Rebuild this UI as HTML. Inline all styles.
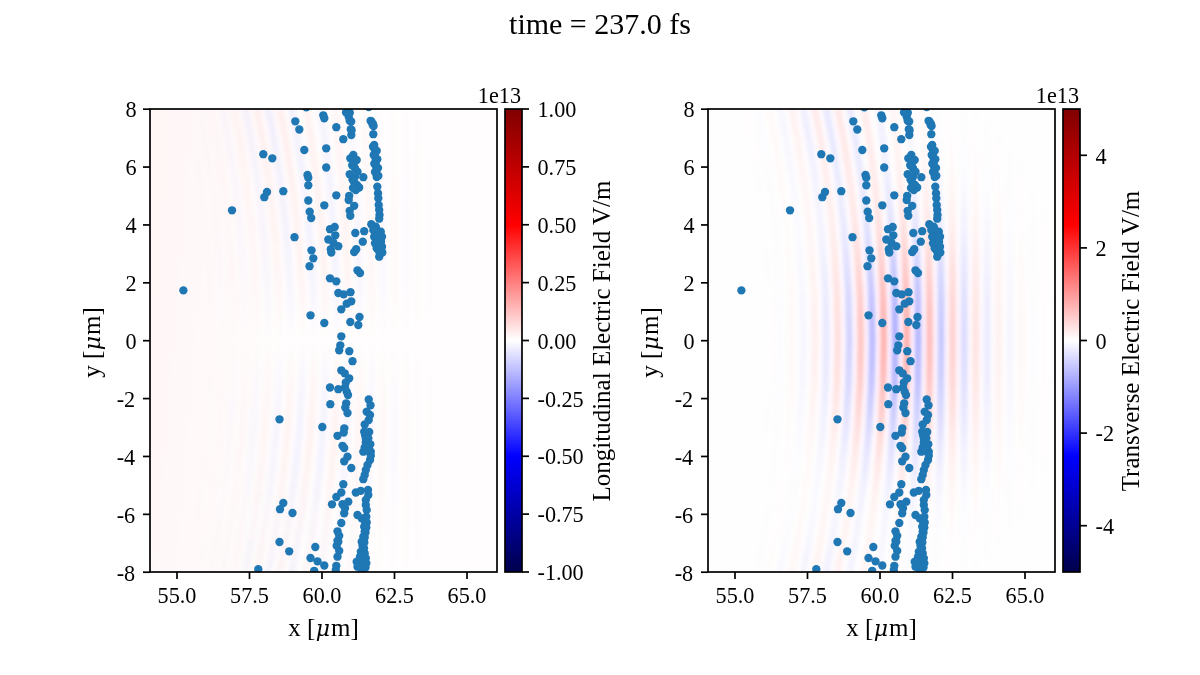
<!DOCTYPE html>
<html lang="en"><head><meta charset="utf-8"><title>time = 237.0 fs</title>
<style>html,body{margin:0;padding:0;background:#fff;}body{width:1200px;height:675px;overflow:hidden;}svg{display:block;}text{font-family:'Liberation Serif','DejaVu Serif',serif;fill:#000;}.mu{font-family:"DejaVu Serif",serif;}</style></head><body>
<svg width="1200" height="675" viewBox="0 0 1200 675">
<defs>
<linearGradient id="seis" x1="0" y1="1" x2="0" y2="0"><stop offset="0" stop-color="#00004c"/><stop offset="0.25" stop-color="#0000ff"/><stop offset="0.5" stop-color="#ffffff"/><stop offset="0.75" stop-color="#ff0000"/><stop offset="1" stop-color="#800000"/></linearGradient>
<linearGradient id="pinkL" x1="0" y1="0" x2="1" y2="0.25"><stop offset="0" stop-color="#ff0000" stop-opacity="0.03"/><stop offset="1" stop-color="#ff0000" stop-opacity="0"/></linearGradient>
<clipPath id="clipL"><rect x="150" y="109" width="347" height="463"/></clipPath>
<clipPath id="clipR"><rect x="708" y="109" width="347" height="463"/></clipPath>
</defs>
<rect width="1200" height="675" fill="#fff"/>
<text x="600" y="33.5" font-size="30" text-anchor="middle">time = 237.0 fs</text>
<rect x="150" y="109" width="347" height="463" fill="#fffdfd"/>
<rect x="150" y="109" width="150" height="463" fill="url(#pinkL)"/>
<defs><linearGradient id="Lar" gradientUnits="userSpaceOnUse" x1="0" y1="109" x2="0" y2="572"><stop offset="0.0000" stop-color="#ff0000" stop-opacity="0.206"/><stop offset="0.0417" stop-color="#ff0000" stop-opacity="0.304"/><stop offset="0.0833" stop-color="#ff0000" stop-opacity="0.426"/><stop offset="0.1250" stop-color="#ff0000" stop-opacity="0.568"/><stop offset="0.1667" stop-color="#ff0000" stop-opacity="0.716"/><stop offset="0.2083" stop-color="#ff0000" stop-opacity="0.854"/><stop offset="0.2500" stop-color="#ff0000" stop-opacity="0.957"/><stop offset="0.2917" stop-color="#ff0000" stop-opacity="1.000"/><stop offset="0.3333" stop-color="#ff0000" stop-opacity="0.964"/><stop offset="0.3750" stop-color="#ff0000" stop-opacity="0.835"/><stop offset="0.4167" stop-color="#ff0000" stop-opacity="0.617"/><stop offset="0.4583" stop-color="#ff0000" stop-opacity="0.328"/><stop offset="0.5000" stop-color="#ff0000" stop-opacity="0"/><stop offset="0.5000" stop-color="#ff0000" stop-opacity="0.000"/><stop offset="0.5417" stop-color="#0000ff" stop-opacity="0.328"/><stop offset="0.5833" stop-color="#0000ff" stop-opacity="0.617"/><stop offset="0.6250" stop-color="#0000ff" stop-opacity="0.835"/><stop offset="0.6667" stop-color="#0000ff" stop-opacity="0.964"/><stop offset="0.7083" stop-color="#0000ff" stop-opacity="1.000"/><stop offset="0.7500" stop-color="#0000ff" stop-opacity="0.957"/><stop offset="0.7917" stop-color="#0000ff" stop-opacity="0.854"/><stop offset="0.8333" stop-color="#0000ff" stop-opacity="0.716"/><stop offset="0.8750" stop-color="#0000ff" stop-opacity="0.568"/><stop offset="0.9167" stop-color="#0000ff" stop-opacity="0.426"/><stop offset="0.9583" stop-color="#0000ff" stop-opacity="0.304"/><stop offset="1.0000" stop-color="#0000ff" stop-opacity="0.206"/></linearGradient><linearGradient id="Lab" gradientUnits="userSpaceOnUse" x1="0" y1="109" x2="0" y2="572"><stop offset="0.0000" stop-color="#0000ff" stop-opacity="0.206"/><stop offset="0.0417" stop-color="#0000ff" stop-opacity="0.304"/><stop offset="0.0833" stop-color="#0000ff" stop-opacity="0.426"/><stop offset="0.1250" stop-color="#0000ff" stop-opacity="0.568"/><stop offset="0.1667" stop-color="#0000ff" stop-opacity="0.716"/><stop offset="0.2083" stop-color="#0000ff" stop-opacity="0.854"/><stop offset="0.2500" stop-color="#0000ff" stop-opacity="0.957"/><stop offset="0.2917" stop-color="#0000ff" stop-opacity="1.000"/><stop offset="0.3333" stop-color="#0000ff" stop-opacity="0.964"/><stop offset="0.3750" stop-color="#0000ff" stop-opacity="0.835"/><stop offset="0.4167" stop-color="#0000ff" stop-opacity="0.617"/><stop offset="0.4583" stop-color="#0000ff" stop-opacity="0.328"/><stop offset="0.5000" stop-color="#0000ff" stop-opacity="0"/><stop offset="0.5000" stop-color="#0000ff" stop-opacity="0.000"/><stop offset="0.5417" stop-color="#ff0000" stop-opacity="0.328"/><stop offset="0.5833" stop-color="#ff0000" stop-opacity="0.617"/><stop offset="0.6250" stop-color="#ff0000" stop-opacity="0.835"/><stop offset="0.6667" stop-color="#ff0000" stop-opacity="0.964"/><stop offset="0.7083" stop-color="#ff0000" stop-opacity="1.000"/><stop offset="0.7500" stop-color="#ff0000" stop-opacity="0.957"/><stop offset="0.7917" stop-color="#ff0000" stop-opacity="0.854"/><stop offset="0.8333" stop-color="#ff0000" stop-opacity="0.716"/><stop offset="0.8750" stop-color="#ff0000" stop-opacity="0.568"/><stop offset="0.9167" stop-color="#ff0000" stop-opacity="0.426"/><stop offset="0.9583" stop-color="#ff0000" stop-opacity="0.304"/><stop offset="1.0000" stop-color="#ff0000" stop-opacity="0.206"/></linearGradient><linearGradient id="Ltr" gradientUnits="userSpaceOnUse" x1="0" y1="109" x2="0" y2="572"><stop offset="0.0000" stop-color="#ff0000" stop-opacity="1.000"/><stop offset="0.0417" stop-color="#ff0000" stop-opacity="0.946"/><stop offset="0.0833" stop-color="#ff0000" stop-opacity="0.792"/><stop offset="0.1250" stop-color="#ff0000" stop-opacity="0.586"/><stop offset="0.1667" stop-color="#ff0000" stop-opacity="0.383"/><stop offset="0.2083" stop-color="#ff0000" stop-opacity="0.222"/><stop offset="0.2500" stop-color="#ff0000" stop-opacity="0.113"/><stop offset="0.2917" stop-color="#ff0000" stop-opacity="0.051"/><stop offset="0.3333" stop-color="#ff0000" stop-opacity="0.021"/><stop offset="0.3750" stop-color="#ff0000" stop-opacity="0.007"/><stop offset="0.4167" stop-color="#ff0000" stop-opacity="0.002"/><stop offset="0.4583" stop-color="#ff0000" stop-opacity="0.001"/><stop offset="0.5000" stop-color="#ff0000" stop-opacity="0.000"/><stop offset="0.5417" stop-color="#ff0000" stop-opacity="0.000"/><stop offset="0.5833" stop-color="#ff0000" stop-opacity="0.000"/><stop offset="0.6250" stop-color="#ff0000" stop-opacity="0.000"/><stop offset="0.6667" stop-color="#ff0000" stop-opacity="0.000"/><stop offset="0.7083" stop-color="#ff0000" stop-opacity="0.000"/><stop offset="0.7500" stop-color="#ff0000" stop-opacity="0.000"/><stop offset="0.7917" stop-color="#ff0000" stop-opacity="0.000"/><stop offset="0.8333" stop-color="#ff0000" stop-opacity="0.000"/><stop offset="0.8750" stop-color="#ff0000" stop-opacity="0.000"/><stop offset="0.9167" stop-color="#ff0000" stop-opacity="0.000"/><stop offset="0.9583" stop-color="#ff0000" stop-opacity="0.000"/><stop offset="1.0000" stop-color="#ff0000" stop-opacity="0.000"/></linearGradient><linearGradient id="Ltb" gradientUnits="userSpaceOnUse" x1="0" y1="109" x2="0" y2="572"><stop offset="0.0000" stop-color="#0000ff" stop-opacity="1.000"/><stop offset="0.0417" stop-color="#0000ff" stop-opacity="0.946"/><stop offset="0.0833" stop-color="#0000ff" stop-opacity="0.792"/><stop offset="0.1250" stop-color="#0000ff" stop-opacity="0.586"/><stop offset="0.1667" stop-color="#0000ff" stop-opacity="0.383"/><stop offset="0.2083" stop-color="#0000ff" stop-opacity="0.222"/><stop offset="0.2500" stop-color="#0000ff" stop-opacity="0.113"/><stop offset="0.2917" stop-color="#0000ff" stop-opacity="0.051"/><stop offset="0.3333" stop-color="#0000ff" stop-opacity="0.021"/><stop offset="0.3750" stop-color="#0000ff" stop-opacity="0.007"/><stop offset="0.4167" stop-color="#0000ff" stop-opacity="0.002"/><stop offset="0.4583" stop-color="#0000ff" stop-opacity="0.001"/><stop offset="0.5000" stop-color="#0000ff" stop-opacity="0.000"/><stop offset="0.5417" stop-color="#0000ff" stop-opacity="0.000"/><stop offset="0.5833" stop-color="#0000ff" stop-opacity="0.000"/><stop offset="0.6250" stop-color="#0000ff" stop-opacity="0.000"/><stop offset="0.6667" stop-color="#0000ff" stop-opacity="0.000"/><stop offset="0.7083" stop-color="#0000ff" stop-opacity="0.000"/><stop offset="0.7500" stop-color="#0000ff" stop-opacity="0.000"/><stop offset="0.7917" stop-color="#0000ff" stop-opacity="0.000"/><stop offset="0.8333" stop-color="#0000ff" stop-opacity="0.000"/><stop offset="0.8750" stop-color="#0000ff" stop-opacity="0.000"/><stop offset="0.9167" stop-color="#0000ff" stop-opacity="0.000"/><stop offset="0.9583" stop-color="#0000ff" stop-opacity="0.000"/><stop offset="1.0000" stop-color="#0000ff" stop-opacity="0.000"/></linearGradient><linearGradient id="Lur" gradientUnits="userSpaceOnUse" x1="0" y1="109" x2="0" y2="572"><stop offset="0.0000" stop-color="#ff0000" stop-opacity="0.000"/><stop offset="0.0417" stop-color="#ff0000" stop-opacity="0.000"/><stop offset="0.0833" stop-color="#ff0000" stop-opacity="0.000"/><stop offset="0.1250" stop-color="#ff0000" stop-opacity="0.000"/><stop offset="0.1667" stop-color="#ff0000" stop-opacity="0.000"/><stop offset="0.2083" stop-color="#ff0000" stop-opacity="0.000"/><stop offset="0.2500" stop-color="#ff0000" stop-opacity="0.000"/><stop offset="0.2917" stop-color="#ff0000" stop-opacity="0.000"/><stop offset="0.3333" stop-color="#ff0000" stop-opacity="0.000"/><stop offset="0.3750" stop-color="#ff0000" stop-opacity="0.000"/><stop offset="0.4167" stop-color="#ff0000" stop-opacity="0.000"/><stop offset="0.4583" stop-color="#ff0000" stop-opacity="0.000"/><stop offset="0.5000" stop-color="#ff0000" stop-opacity="0.000"/><stop offset="0.5417" stop-color="#ff0000" stop-opacity="0.000"/><stop offset="0.5833" stop-color="#ff0000" stop-opacity="0.000"/><stop offset="0.6250" stop-color="#ff0000" stop-opacity="0.002"/><stop offset="0.6667" stop-color="#ff0000" stop-opacity="0.007"/><stop offset="0.7083" stop-color="#ff0000" stop-opacity="0.022"/><stop offset="0.7500" stop-color="#ff0000" stop-opacity="0.060"/><stop offset="0.7917" stop-color="#ff0000" stop-opacity="0.138"/><stop offset="0.8333" stop-color="#ff0000" stop-opacity="0.277"/><stop offset="0.8750" stop-color="#ff0000" stop-opacity="0.477"/><stop offset="0.9167" stop-color="#ff0000" stop-opacity="0.708"/><stop offset="0.9583" stop-color="#ff0000" stop-opacity="0.905"/><stop offset="1.0000" stop-color="#ff0000" stop-opacity="0.998"/></linearGradient><linearGradient id="Lub" gradientUnits="userSpaceOnUse" x1="0" y1="109" x2="0" y2="572"><stop offset="0.0000" stop-color="#0000ff" stop-opacity="0.000"/><stop offset="0.0417" stop-color="#0000ff" stop-opacity="0.000"/><stop offset="0.0833" stop-color="#0000ff" stop-opacity="0.000"/><stop offset="0.1250" stop-color="#0000ff" stop-opacity="0.000"/><stop offset="0.1667" stop-color="#0000ff" stop-opacity="0.000"/><stop offset="0.2083" stop-color="#0000ff" stop-opacity="0.000"/><stop offset="0.2500" stop-color="#0000ff" stop-opacity="0.000"/><stop offset="0.2917" stop-color="#0000ff" stop-opacity="0.000"/><stop offset="0.3333" stop-color="#0000ff" stop-opacity="0.000"/><stop offset="0.3750" stop-color="#0000ff" stop-opacity="0.000"/><stop offset="0.4167" stop-color="#0000ff" stop-opacity="0.000"/><stop offset="0.4583" stop-color="#0000ff" stop-opacity="0.000"/><stop offset="0.5000" stop-color="#0000ff" stop-opacity="0.000"/><stop offset="0.5417" stop-color="#0000ff" stop-opacity="0.000"/><stop offset="0.5833" stop-color="#0000ff" stop-opacity="0.000"/><stop offset="0.6250" stop-color="#0000ff" stop-opacity="0.002"/><stop offset="0.6667" stop-color="#0000ff" stop-opacity="0.007"/><stop offset="0.7083" stop-color="#0000ff" stop-opacity="0.022"/><stop offset="0.7500" stop-color="#0000ff" stop-opacity="0.060"/><stop offset="0.7917" stop-color="#0000ff" stop-opacity="0.138"/><stop offset="0.8333" stop-color="#0000ff" stop-opacity="0.277"/><stop offset="0.8750" stop-color="#0000ff" stop-opacity="0.477"/><stop offset="0.9167" stop-color="#0000ff" stop-opacity="0.708"/><stop offset="0.9583" stop-color="#0000ff" stop-opacity="0.905"/><stop offset="1.0000" stop-color="#0000ff" stop-opacity="0.998"/></linearGradient><filter id="Lblur" filterUnits="userSpaceOnUse" x="90" y="49" width="467" height="583"><feGaussianBlur stdDeviation="2.1"/></filter></defs>
<g clip-path="url(#clipL)"><g filter="url(#Lblur)" fill="none" stroke-width="7.00"><path d="M186.3 100.1Q235.8 340.1 186.3 580.1" stroke="url(#Lar)" stroke-opacity="0.004"/><path d="M197.8 100.1Q247.3 340.1 197.8 580.1" stroke="url(#Lab)" stroke-opacity="0.007"/><path d="M197.8 100.1Q247.3 340.1 197.8 580.1" stroke="url(#Ltb)" stroke-opacity="0.004"/><path d="M209.2 100.1Q258.8 340.1 209.2 580.1" stroke="url(#Lar)" stroke-opacity="0.010"/><path d="M209.2 100.1Q258.8 340.1 209.2 580.1" stroke="url(#Ltr)" stroke-opacity="0.008"/><path d="M209.2 100.1Q258.8 340.1 209.2 580.1" stroke="url(#Lur)" stroke-opacity="0.005"/><path d="M220.7 100.1Q270.2 340.1 220.7 580.1" stroke="url(#Lab)" stroke-opacity="0.015"/><path d="M220.7 100.1Q270.2 340.1 220.7 580.1" stroke="url(#Ltb)" stroke-opacity="0.014"/><path d="M220.7 100.1Q270.2 340.1 220.7 580.1" stroke="url(#Lub)" stroke-opacity="0.009"/><path d="M232.2 100.1Q281.7 340.1 232.2 580.1" stroke="url(#Lar)" stroke-opacity="0.020"/><path d="M232.2 100.1Q281.7 340.1 232.2 580.1" stroke="url(#Ltr)" stroke-opacity="0.022"/><path d="M232.2 100.1Q281.7 340.1 232.2 580.1" stroke="url(#Lur)" stroke-opacity="0.015"/><path d="M243.7 100.1Q293.2 340.1 243.7 580.1" stroke="url(#Lab)" stroke-opacity="0.026"/><path d="M243.7 100.1Q293.2 340.1 243.7 580.1" stroke="url(#Ltb)" stroke-opacity="0.030"/><path d="M243.7 100.1Q293.2 340.1 243.7 580.1" stroke="url(#Lub)" stroke-opacity="0.022"/><path d="M255.1 100.1Q304.7 340.1 255.1 580.1" stroke="url(#Lar)" stroke-opacity="0.032"/><path d="M255.1 100.1Q304.7 340.1 255.1 580.1" stroke="url(#Ltr)" stroke-opacity="0.038"/><path d="M255.1 100.1Q304.7 340.1 255.1 580.1" stroke="url(#Lur)" stroke-opacity="0.028"/><path d="M266.6 100.1Q316.1 340.1 266.6 580.1" stroke="url(#Lab)" stroke-opacity="0.038"/><path d="M266.6 100.1Q316.1 340.1 266.6 580.1" stroke="url(#Ltb)" stroke-opacity="0.043"/><path d="M266.6 100.1Q316.1 340.1 266.6 580.1" stroke="url(#Lub)" stroke-opacity="0.032"/><path d="M278.1 100.1Q327.6 340.1 278.1 580.1" stroke="url(#Lar)" stroke-opacity="0.042"/><path d="M278.1 100.1Q327.6 340.1 278.1 580.1" stroke="url(#Ltr)" stroke-opacity="0.044"/><path d="M278.1 100.1Q327.6 340.1 278.1 580.1" stroke="url(#Lur)" stroke-opacity="0.033"/><path d="M290.2 100.1Q338.5 340.1 290.2 580.1" stroke="url(#Lab)" stroke-opacity="0.044"/><path d="M290.2 100.1Q338.5 340.1 290.2 580.1" stroke="url(#Ltb)" stroke-opacity="0.041"/><path d="M290.2 100.1Q338.5 340.1 290.2 580.1" stroke="url(#Lub)" stroke-opacity="0.031"/><path d="M304.8 100.1Q346.8 340.1 304.8 580.1" stroke="url(#Lar)" stroke-opacity="0.044"/><path d="M304.8 100.1Q346.8 340.1 304.8 580.1" stroke="url(#Ltr)" stroke-opacity="0.034"/><path d="M304.8 100.1Q346.8 340.1 304.8 580.1" stroke="url(#Lur)" stroke-opacity="0.025"/><path d="M319.5 100.1Q355.1 340.1 319.5 580.1" stroke="url(#Lab)" stroke-opacity="0.042"/><path d="M319.5 100.1Q355.1 340.1 319.5 580.1" stroke="url(#Ltb)" stroke-opacity="0.026"/><path d="M319.5 100.1Q355.1 340.1 319.5 580.1" stroke="url(#Lub)" stroke-opacity="0.018"/><path d="M334.1 100.1Q363.4 340.1 334.1 580.1" stroke="url(#Lar)" stroke-opacity="0.038"/><path d="M334.1 100.1Q363.4 340.1 334.1 580.1" stroke="url(#Ltr)" stroke-opacity="0.018"/><path d="M334.1 100.1Q363.4 340.1 334.1 580.1" stroke="url(#Lur)" stroke-opacity="0.012"/><path d="M348.7 100.1Q371.7 340.1 348.7 580.1" stroke="url(#Lab)" stroke-opacity="0.032"/><path d="M348.7 100.1Q371.7 340.1 348.7 580.1" stroke="url(#Ltb)" stroke-opacity="0.011"/><path d="M348.7 100.1Q371.7 340.1 348.7 580.1" stroke="url(#Lub)" stroke-opacity="0.007"/><path d="M363.4 100.1Q380.0 340.1 363.4 580.1" stroke="url(#Lar)" stroke-opacity="0.026"/><path d="M363.4 100.1Q380.0 340.1 363.4 580.1" stroke="url(#Ltr)" stroke-opacity="0.006"/><path d="M378.0 100.1Q388.4 340.1 378.0 580.1" stroke="url(#Lab)" stroke-opacity="0.020"/><path d="M392.6 100.1Q396.7 340.1 392.6 580.1" stroke="url(#Lar)" stroke-opacity="0.015"/><path d="M406.1 100.1Q406.1 340.1 406.1 580.1" stroke="url(#Lab)" stroke-opacity="0.010"/><path d="M417.6 100.1Q417.6 340.1 417.6 580.1" stroke="url(#Lar)" stroke-opacity="0.007"/><path d="M429.1 100.1Q429.1 340.1 429.1 580.1" stroke="url(#Lab)" stroke-opacity="0.004"/></g></g>
<g clip-path="url(#clipL)" fill="#1f77b4"><circle cx="306.3" cy="107.3" r="4.17"/><circle cx="323.3" cy="115.3" r="4.17"/><circle cx="324.3" cy="118.3" r="4.17"/><circle cx="295.3" cy="121.3" r="4.17"/><circle cx="299.3" cy="129.5" r="4.17"/><circle cx="336.3" cy="127.2" r="4.17"/><circle cx="347.8" cy="112.5" r="4.17"/><circle cx="348.7" cy="116.7" r="4.17"/><circle cx="349.7" cy="120.8" r="4.17"/><circle cx="350.8" cy="129.2" r="4.17"/><circle cx="351.3" cy="135.0" r="4.17"/><circle cx="343.3" cy="139.2" r="4.17"/><circle cx="368.7" cy="107.0" r="4.17"/><circle cx="371.3" cy="121.3" r="4.17"/><circle cx="372.7" cy="125.0" r="4.17"/><circle cx="373.3" cy="134.2" r="4.17"/><circle cx="304.3" cy="150.0" r="4.17"/><circle cx="326.2" cy="148.3" r="4.17"/><circle cx="263.3" cy="154.2" r="4.17"/><circle cx="272.3" cy="158.3" r="4.17"/><circle cx="326.2" cy="167.5" r="4.17"/><circle cx="353.3" cy="155.0" r="4.17"/><circle cx="350.3" cy="158.3" r="4.17"/><circle cx="354.2" cy="162.5" r="4.17"/><circle cx="355.0" cy="168.3" r="4.17"/><circle cx="349.7" cy="174.2" r="4.17"/><circle cx="355.0" cy="176.7" r="4.17"/><circle cx="354.2" cy="182.5" r="4.17"/><circle cx="359.2" cy="187.5" r="4.17"/><circle cx="355.8" cy="190.0" r="4.17"/><circle cx="363.3" cy="177.2" r="4.17"/><circle cx="374.2" cy="145.0" r="4.17"/><circle cx="374.7" cy="149.2" r="4.17"/><circle cx="375.0" cy="153.3" r="4.17"/><circle cx="375.3" cy="157.5" r="4.17"/><circle cx="375.7" cy="161.7" r="4.17"/><circle cx="376.0" cy="165.8" r="4.17"/><circle cx="376.3" cy="170.0" r="4.17"/><circle cx="376.7" cy="174.2" r="4.17"/><circle cx="376.7" cy="177.0" r="4.17"/><circle cx="377.3" cy="186.7" r="4.17"/><circle cx="378.0" cy="193.3" r="4.17"/><circle cx="378.3" cy="198.3" r="4.17"/><circle cx="378.7" cy="205.0" r="4.17"/><circle cx="379.2" cy="210.0" r="4.17"/><circle cx="379.5" cy="215.0" r="4.17"/><circle cx="307.5" cy="175.0" r="4.17"/><circle cx="308.3" cy="177.8" r="4.17"/><circle cx="308.3" cy="185.3" r="4.17"/><circle cx="267.0" cy="192.0" r="4.17"/><circle cx="264.3" cy="197.2" r="4.17"/><circle cx="283.3" cy="191.2" r="4.17"/><circle cx="308.3" cy="200.5" r="4.17"/><circle cx="336.3" cy="195.3" r="4.17"/><circle cx="324.3" cy="205.3" r="4.17"/><circle cx="349.2" cy="195.8" r="4.17"/><circle cx="348.7" cy="200.0" r="4.17"/><circle cx="354.2" cy="205.8" r="4.17"/><circle cx="349.7" cy="210.8" r="4.17"/><circle cx="232.0" cy="210.3" r="4.17"/><circle cx="309.7" cy="211.7" r="4.17"/><circle cx="311.2" cy="218.0" r="4.17"/><circle cx="350.3" cy="215.8" r="4.17"/><circle cx="379.2" cy="218.7" r="4.17"/><circle cx="371.3" cy="224.2" r="4.17"/><circle cx="375.8" cy="226.7" r="4.17"/><circle cx="377.5" cy="230.8" r="4.17"/><circle cx="378.3" cy="235.0" r="4.17"/><circle cx="378.3" cy="239.2" r="4.17"/><circle cx="377.5" cy="243.3" r="4.17"/><circle cx="378.3" cy="247.5" r="4.17"/><circle cx="379.2" cy="251.7" r="4.17"/><circle cx="379.2" cy="256.7" r="4.17"/><circle cx="373.3" cy="230.0" r="4.17"/><circle cx="374.2" cy="236.7" r="4.17"/><circle cx="375.0" cy="243.3" r="4.17"/><circle cx="376.7" cy="248.3" r="4.17"/><circle cx="330.0" cy="229.2" r="4.17"/><circle cx="334.7" cy="227.0" r="4.17"/><circle cx="335.3" cy="235.3" r="4.17"/><circle cx="328.3" cy="239.5" r="4.17"/><circle cx="333.3" cy="242.5" r="4.17"/><circle cx="338.3" cy="246.2" r="4.17"/><circle cx="330.8" cy="249.2" r="4.17"/><circle cx="331.3" cy="252.5" r="4.17"/><circle cx="355.3" cy="233.0" r="4.17"/><circle cx="364.2" cy="231.2" r="4.17"/><circle cx="362.8" cy="241.7" r="4.17"/><circle cx="356.2" cy="249.2" r="4.17"/><circle cx="354.2" cy="252.0" r="4.17"/><circle cx="294.5" cy="237.2" r="4.17"/><circle cx="311.5" cy="250.3" r="4.17"/><circle cx="313.3" cy="258.3" r="4.17"/><circle cx="309.5" cy="266.2" r="4.17"/><circle cx="357.5" cy="270.3" r="4.17"/><circle cx="360.0" cy="273.0" r="4.17"/><circle cx="330.0" cy="278.3" r="4.17"/><circle cx="336.3" cy="281.3" r="4.17"/><circle cx="338.3" cy="293.0" r="4.17"/><circle cx="343.7" cy="294.3" r="4.17"/><circle cx="350.5" cy="292.2" r="4.17"/><circle cx="351.3" cy="301.3" r="4.17"/><circle cx="346.7" cy="303.7" r="4.17"/><circle cx="341.3" cy="309.3" r="4.17"/><circle cx="310.5" cy="315.3" r="4.17"/><circle cx="324.3" cy="323.0" r="4.17"/><circle cx="359.5" cy="317.0" r="4.17"/><circle cx="350.3" cy="322.0" r="4.17"/><circle cx="358.3" cy="325.0" r="4.17"/><circle cx="380.8" cy="231.7" r="4.17"/><circle cx="382.0" cy="236.7" r="4.17"/><circle cx="381.0" cy="241.7" r="4.17"/><circle cx="382.0" cy="246.7" r="4.17"/><circle cx="382.3" cy="252.5" r="4.17"/><circle cx="341.3" cy="336.3" r="4.17"/><circle cx="340.3" cy="345.3" r="4.17"/><circle cx="339.2" cy="350.3" r="4.17"/><circle cx="349.3" cy="351.2" r="4.17"/><circle cx="352.5" cy="361.2" r="4.17"/><circle cx="341.3" cy="370.3" r="4.17"/><circle cx="344.7" cy="373.3" r="4.17"/><circle cx="349.2" cy="378.3" r="4.17"/><circle cx="345.8" cy="382.5" r="4.17"/><circle cx="345.0" cy="387.5" r="4.17"/><circle cx="346.7" cy="391.7" r="4.17"/><circle cx="348.0" cy="395.0" r="4.17"/><circle cx="330.0" cy="387.5" r="4.17"/><circle cx="338.3" cy="389.2" r="4.17"/><circle cx="330.3" cy="404.2" r="4.17"/><circle cx="346.2" cy="403.3" r="4.17"/><circle cx="345.3" cy="407.5" r="4.17"/><circle cx="347.5" cy="413.0" r="4.17"/><circle cx="368.7" cy="399.5" r="4.17"/><circle cx="370.5" cy="405.3" r="4.17"/><circle cx="366.7" cy="411.7" r="4.17"/><circle cx="370.0" cy="415.0" r="4.17"/><circle cx="368.7" cy="420.0" r="4.17"/><circle cx="364.7" cy="424.5" r="4.17"/><circle cx="364.2" cy="431.7" r="4.17"/><circle cx="369.2" cy="432.0" r="4.17"/><circle cx="279.5" cy="419.3" r="4.17"/><circle cx="322.3" cy="427.0" r="4.17"/><circle cx="344.3" cy="428.3" r="4.17"/><circle cx="343.7" cy="432.5" r="4.17"/><circle cx="337.5" cy="435.8" r="4.17"/><circle cx="342.5" cy="445.8" r="4.17"/><circle cx="344.2" cy="448.0" r="4.17"/><circle cx="347.5" cy="456.7" r="4.17"/><circle cx="344.2" cy="461.3" r="4.17"/><circle cx="351.3" cy="468.0" r="4.17"/><circle cx="365.0" cy="435.0" r="4.17"/><circle cx="368.3" cy="438.3" r="4.17"/><circle cx="365.8" cy="442.5" r="4.17"/><circle cx="368.3" cy="446.7" r="4.17"/><circle cx="363.3" cy="451.7" r="4.17"/><circle cx="370.8" cy="451.7" r="4.17"/><circle cx="370.0" cy="460.0" r="4.17"/><circle cx="367.5" cy="465.0" r="4.17"/><circle cx="365.8" cy="470.0" r="4.17"/><circle cx="364.7" cy="475.0" r="4.17"/><circle cx="363.3" cy="479.2" r="4.17"/><circle cx="343.3" cy="484.2" r="4.17"/><circle cx="341.3" cy="492.5" r="4.17"/><circle cx="336.3" cy="497.0" r="4.17"/><circle cx="332.0" cy="504.3" r="4.17"/><circle cx="355.8" cy="492.5" r="4.17"/><circle cx="360.8" cy="490.8" r="4.17"/><circle cx="368.0" cy="490.0" r="4.17"/><circle cx="368.3" cy="495.0" r="4.17"/><circle cx="365.8" cy="500.0" r="4.17"/><circle cx="365.8" cy="505.0" r="4.17"/><circle cx="366.7" cy="510.0" r="4.17"/><circle cx="348.3" cy="501.7" r="4.17"/><circle cx="342.5" cy="504.2" r="4.17"/><circle cx="345.0" cy="508.3" r="4.17"/><circle cx="344.2" cy="513.3" r="4.17"/><circle cx="357.5" cy="515.0" r="4.17"/><circle cx="361.7" cy="518.3" r="4.17"/><circle cx="365.0" cy="521.7" r="4.17"/><circle cx="364.2" cy="526.7" r="4.17"/><circle cx="364.7" cy="531.7" r="4.17"/><circle cx="363.3" cy="536.7" r="4.17"/><circle cx="361.7" cy="541.7" r="4.17"/><circle cx="362.5" cy="545.8" r="4.17"/><circle cx="341.3" cy="523.0" r="4.17"/><circle cx="337.5" cy="531.3" r="4.17"/><circle cx="339.2" cy="535.8" r="4.17"/><circle cx="337.5" cy="540.8" r="4.17"/><circle cx="336.7" cy="545.8" r="4.17"/><circle cx="283.3" cy="503.0" r="4.17"/><circle cx="280.0" cy="509.2" r="4.17"/><circle cx="292.5" cy="513.0" r="4.17"/><circle cx="279.5" cy="542.0" r="4.17"/><circle cx="315.3" cy="547.0" r="4.17"/><circle cx="365.8" cy="438.3" r="4.17"/><circle cx="370.3" cy="444.2" r="4.17"/><circle cx="364.7" cy="447.5" r="4.17"/><circle cx="367.7" cy="450.8" r="4.17"/><circle cx="370.8" cy="455.8" r="4.17"/><circle cx="289.2" cy="551.3" r="4.17"/><circle cx="310.5" cy="558.0" r="4.17"/><circle cx="317.5" cy="561.3" r="4.17"/><circle cx="324.3" cy="565.5" r="4.17"/><circle cx="314.2" cy="570.8" r="4.17"/><circle cx="258.3" cy="569.2" r="4.17"/><circle cx="337.5" cy="556.7" r="4.17"/><circle cx="336.3" cy="565.8" r="4.17"/><circle cx="335.8" cy="570.0" r="4.17"/><circle cx="360.8" cy="551.7" r="4.17"/><circle cx="360.0" cy="556.7" r="4.17"/><circle cx="363.3" cy="558.3" r="4.17"/><circle cx="360.8" cy="561.7" r="4.17"/><circle cx="365.0" cy="563.3" r="4.17"/><circle cx="360.0" cy="566.7" r="4.17"/><circle cx="364.2" cy="567.5" r="4.17"/><circle cx="361.7" cy="570.8" r="4.17"/><circle cx="183.4" cy="290.4" r="4.17"/><circle cx="366.3" cy="516.7" r="4.17"/><circle cx="366.7" cy="522.5" r="4.17"/><circle cx="366.3" cy="527.5" r="4.17"/><circle cx="365.5" cy="532.5" r="4.17"/><circle cx="364.7" cy="537.5" r="4.17"/><circle cx="364.3" cy="542.5" r="4.17"/><circle cx="364.0" cy="548.3" r="4.17"/><circle cx="364.7" cy="553.3" r="4.17"/><circle cx="365.8" cy="558.3" r="4.17"/><circle cx="366.3" cy="563.3" r="4.17"/><circle cx="365.5" cy="567.5" r="4.17"/><circle cx="339.2" cy="550.8" r="4.17"/><circle cx="338.3" cy="541.7" r="4.17"/><circle cx="356.7" cy="561.7" r="4.17"/><circle cx="357.5" cy="566.7" r="4.17"/><circle cx="346.0" cy="112.4" r="4.17"/><circle cx="349.8" cy="112.8" r="4.17"/><circle cx="351.2" cy="121.5" r="4.17"/><circle cx="351.6" cy="130.2" r="4.17"/><circle cx="370.6" cy="120.8" r="4.17"/><circle cx="372.9" cy="123.6" r="4.17"/><circle cx="373.6" cy="126.0" r="4.17"/><circle cx="356.7" cy="160.0" r="4.17"/><circle cx="352.2" cy="165.3" r="4.17"/><circle cx="357.5" cy="171.7" r="4.17"/><circle cx="352.5" cy="179.5" r="4.17"/><circle cx="357.0" cy="185.0" r="4.17"/><circle cx="353.0" cy="188.0" r="4.17"/><circle cx="373.0" cy="146.7" r="4.17"/><circle cx="376.7" cy="150.8" r="4.17"/><circle cx="373.7" cy="155.0" r="4.17"/><circle cx="377.3" cy="159.2" r="4.17"/><circle cx="374.3" cy="163.7" r="4.17"/><circle cx="378.0" cy="168.0" r="4.17"/><circle cx="375.0" cy="172.0" r="4.17"/><circle cx="378.3" cy="175.8" r="4.17"/></g>
<rect x="150" y="109" width="347" height="463" fill="none" stroke="#000" stroke-width="1.7"/>
<line x1="143" x2="150" y1="572.22" y2="572.22" stroke="#000" stroke-width="1.7"/>
<text x="135.2" y="580.52" font-size="22.2" text-anchor="end">-8</text>
<line x1="143" x2="150" y1="514.34" y2="514.34" stroke="#000" stroke-width="1.7"/>
<text x="135.2" y="522.64" font-size="22.2" text-anchor="end">-6</text>
<line x1="143" x2="150" y1="456.46" y2="456.46" stroke="#000" stroke-width="1.7"/>
<text x="135.2" y="464.76" font-size="22.2" text-anchor="end">-4</text>
<line x1="143" x2="150" y1="398.58" y2="398.58" stroke="#000" stroke-width="1.7"/>
<text x="135.2" y="406.88" font-size="22.2" text-anchor="end">-2</text>
<line x1="143" x2="150" y1="340.70" y2="340.70" stroke="#000" stroke-width="1.7"/>
<text x="136.5" y="349.00" font-size="22.2" text-anchor="end">0</text>
<line x1="143" x2="150" y1="282.82" y2="282.82" stroke="#000" stroke-width="1.7"/>
<text x="136.5" y="291.12" font-size="22.2" text-anchor="end">2</text>
<line x1="143" x2="150" y1="224.94" y2="224.94" stroke="#000" stroke-width="1.7"/>
<text x="136.5" y="233.24" font-size="22.2" text-anchor="end">4</text>
<line x1="143" x2="150" y1="167.06" y2="167.06" stroke="#000" stroke-width="1.7"/>
<text x="136.5" y="175.36" font-size="22.2" text-anchor="end">6</text>
<line x1="143" x2="150" y1="109.18" y2="109.18" stroke="#000" stroke-width="1.7"/>
<text x="136.5" y="117.48" font-size="22.2" text-anchor="end">8</text>
<line x1="177.00" x2="177.00" y1="572" y2="579" stroke="#000" stroke-width="1.7"/>
<text x="177.00" y="603" font-size="22.2" text-anchor="middle">55.0</text>
<line x1="249.50" x2="249.50" y1="572" y2="579" stroke="#000" stroke-width="1.7"/>
<text x="249.50" y="603" font-size="22.2" text-anchor="middle">57.5</text>
<line x1="322.00" x2="322.00" y1="572" y2="579" stroke="#000" stroke-width="1.7"/>
<text x="322.00" y="603" font-size="22.2" text-anchor="middle">60.0</text>
<line x1="394.50" x2="394.50" y1="572" y2="579" stroke="#000" stroke-width="1.7"/>
<text x="394.50" y="603" font-size="22.2" text-anchor="middle">62.5</text>
<line x1="467.00" x2="467.00" y1="572" y2="579" stroke="#000" stroke-width="1.7"/>
<text x="467.00" y="603" font-size="22.2" text-anchor="middle">65.0</text>
<text x="323.5" y="636" font-size="25" text-anchor="middle">x [<tspan font-style="italic" class="mu" font-size="22" dx="0.6">μ</tspan><tspan dx="0.9">m]</tspan></text>
<text transform="translate(100,342.5) rotate(-90)" font-size="25" text-anchor="middle">y [<tspan font-style="italic" class="mu" font-size="22" dx="0.6">μ</tspan><tspan dx="0.9">m]</tspan></text>
<rect x="505" y="109" width="17" height="463" fill="url(#seis)" stroke="#000" stroke-width="1.7"/>
<line x1="522" x2="529" y1="109.00" y2="109.00" stroke="#000" stroke-width="1.7"/>
<text x="537.5" y="117.20" font-size="22.2">1.00</text>
<line x1="522" x2="529" y1="166.88" y2="166.88" stroke="#000" stroke-width="1.7"/>
<text x="537.5" y="175.07" font-size="22.2">0.75</text>
<line x1="522" x2="529" y1="224.75" y2="224.75" stroke="#000" stroke-width="1.7"/>
<text x="537.5" y="232.95" font-size="22.2">0.50</text>
<line x1="522" x2="529" y1="282.62" y2="282.62" stroke="#000" stroke-width="1.7"/>
<text x="537.5" y="290.82" font-size="22.2">0.25</text>
<line x1="522" x2="529" y1="340.50" y2="340.50" stroke="#000" stroke-width="1.7"/>
<text x="537.5" y="348.70" font-size="22.2">0.00</text>
<line x1="522" x2="529" y1="398.38" y2="398.38" stroke="#000" stroke-width="1.7"/>
<text x="537.5" y="406.57" font-size="22.2">-0.25</text>
<line x1="522" x2="529" y1="456.25" y2="456.25" stroke="#000" stroke-width="1.7"/>
<text x="537.5" y="464.45" font-size="22.2">-0.50</text>
<line x1="522" x2="529" y1="514.12" y2="514.12" stroke="#000" stroke-width="1.7"/>
<text x="537.5" y="522.33" font-size="22.2">-0.75</text>
<line x1="522" x2="529" y1="572.00" y2="572.00" stroke="#000" stroke-width="1.7"/>
<text x="537.5" y="580.20" font-size="22.2">-1.00</text>
<text x="521" y="102.8" font-size="22.2" text-anchor="end">1e13</text>
<text transform="translate(610.3,341) rotate(-90)" font-size="25" text-anchor="middle">Longitudinal Electric Field V/m</text>
<rect x="708" y="109" width="347" height="463" fill="#fffefe"/>
<defs><linearGradient id="Rmr" gradientUnits="userSpaceOnUse" x1="0" y1="109" x2="0" y2="572"><stop offset="0.0000" stop-color="#ff0000" stop-opacity="0.015"/><stop offset="0.0417" stop-color="#ff0000" stop-opacity="0.030"/><stop offset="0.0833" stop-color="#ff0000" stop-opacity="0.055"/><stop offset="0.1250" stop-color="#ff0000" stop-opacity="0.096"/><stop offset="0.1667" stop-color="#ff0000" stop-opacity="0.157"/><stop offset="0.2083" stop-color="#ff0000" stop-opacity="0.243"/><stop offset="0.2500" stop-color="#ff0000" stop-opacity="0.354"/><stop offset="0.2917" stop-color="#ff0000" stop-opacity="0.487"/><stop offset="0.3333" stop-color="#ff0000" stop-opacity="0.632"/><stop offset="0.3750" stop-color="#ff0000" stop-opacity="0.773"/><stop offset="0.4167" stop-color="#ff0000" stop-opacity="0.893"/><stop offset="0.4583" stop-color="#ff0000" stop-opacity="0.973"/><stop offset="0.5000" stop-color="#ff0000" stop-opacity="1.000"/><stop offset="0.5417" stop-color="#ff0000" stop-opacity="0.970"/><stop offset="0.5833" stop-color="#ff0000" stop-opacity="0.888"/><stop offset="0.6250" stop-color="#ff0000" stop-opacity="0.766"/><stop offset="0.6667" stop-color="#ff0000" stop-opacity="0.624"/><stop offset="0.7083" stop-color="#ff0000" stop-opacity="0.480"/><stop offset="0.7500" stop-color="#ff0000" stop-opacity="0.348"/><stop offset="0.7917" stop-color="#ff0000" stop-opacity="0.238"/><stop offset="0.8333" stop-color="#ff0000" stop-opacity="0.154"/><stop offset="0.8750" stop-color="#ff0000" stop-opacity="0.094"/><stop offset="0.9167" stop-color="#ff0000" stop-opacity="0.054"/><stop offset="0.9583" stop-color="#ff0000" stop-opacity="0.029"/><stop offset="1.0000" stop-color="#ff0000" stop-opacity="0.015"/></linearGradient><linearGradient id="Rmb" gradientUnits="userSpaceOnUse" x1="0" y1="109" x2="0" y2="572"><stop offset="0.0000" stop-color="#0000ff" stop-opacity="0.015"/><stop offset="0.0417" stop-color="#0000ff" stop-opacity="0.030"/><stop offset="0.0833" stop-color="#0000ff" stop-opacity="0.055"/><stop offset="0.1250" stop-color="#0000ff" stop-opacity="0.096"/><stop offset="0.1667" stop-color="#0000ff" stop-opacity="0.157"/><stop offset="0.2083" stop-color="#0000ff" stop-opacity="0.243"/><stop offset="0.2500" stop-color="#0000ff" stop-opacity="0.354"/><stop offset="0.2917" stop-color="#0000ff" stop-opacity="0.487"/><stop offset="0.3333" stop-color="#0000ff" stop-opacity="0.632"/><stop offset="0.3750" stop-color="#0000ff" stop-opacity="0.773"/><stop offset="0.4167" stop-color="#0000ff" stop-opacity="0.893"/><stop offset="0.4583" stop-color="#0000ff" stop-opacity="0.973"/><stop offset="0.5000" stop-color="#0000ff" stop-opacity="1.000"/><stop offset="0.5417" stop-color="#0000ff" stop-opacity="0.970"/><stop offset="0.5833" stop-color="#0000ff" stop-opacity="0.888"/><stop offset="0.6250" stop-color="#0000ff" stop-opacity="0.766"/><stop offset="0.6667" stop-color="#0000ff" stop-opacity="0.624"/><stop offset="0.7083" stop-color="#0000ff" stop-opacity="0.480"/><stop offset="0.7500" stop-color="#0000ff" stop-opacity="0.348"/><stop offset="0.7917" stop-color="#0000ff" stop-opacity="0.238"/><stop offset="0.8333" stop-color="#0000ff" stop-opacity="0.154"/><stop offset="0.8750" stop-color="#0000ff" stop-opacity="0.094"/><stop offset="0.9167" stop-color="#0000ff" stop-opacity="0.054"/><stop offset="0.9583" stop-color="#0000ff" stop-opacity="0.029"/><stop offset="1.0000" stop-color="#0000ff" stop-opacity="0.015"/></linearGradient><linearGradient id="Rtr" gradientUnits="userSpaceOnUse" x1="0" y1="109" x2="0" y2="572"><stop offset="0.0000" stop-color="#ff0000" stop-opacity="0.996"/><stop offset="0.0417" stop-color="#ff0000" stop-opacity="0.979"/><stop offset="0.0833" stop-color="#ff0000" stop-opacity="0.882"/><stop offset="0.1250" stop-color="#ff0000" stop-opacity="0.727"/><stop offset="0.1667" stop-color="#ff0000" stop-opacity="0.549"/><stop offset="0.2083" stop-color="#ff0000" stop-opacity="0.380"/><stop offset="0.2500" stop-color="#ff0000" stop-opacity="0.240"/><stop offset="0.2917" stop-color="#ff0000" stop-opacity="0.139"/><stop offset="0.3333" stop-color="#ff0000" stop-opacity="0.074"/><stop offset="0.3750" stop-color="#ff0000" stop-opacity="0.036"/><stop offset="0.4167" stop-color="#ff0000" stop-opacity="0.016"/><stop offset="0.4583" stop-color="#ff0000" stop-opacity="0.007"/><stop offset="0.5000" stop-color="#ff0000" stop-opacity="0.002"/><stop offset="0.5417" stop-color="#ff0000" stop-opacity="0.001"/><stop offset="0.5833" stop-color="#ff0000" stop-opacity="0.000"/><stop offset="0.6250" stop-color="#ff0000" stop-opacity="0.000"/><stop offset="0.6667" stop-color="#ff0000" stop-opacity="0.000"/><stop offset="0.7083" stop-color="#ff0000" stop-opacity="0.000"/><stop offset="0.7500" stop-color="#ff0000" stop-opacity="0.000"/><stop offset="0.7917" stop-color="#ff0000" stop-opacity="0.000"/><stop offset="0.8333" stop-color="#ff0000" stop-opacity="0.000"/><stop offset="0.8750" stop-color="#ff0000" stop-opacity="0.000"/><stop offset="0.9167" stop-color="#ff0000" stop-opacity="0.000"/><stop offset="0.9583" stop-color="#ff0000" stop-opacity="0.000"/><stop offset="1.0000" stop-color="#ff0000" stop-opacity="0.000"/></linearGradient><linearGradient id="Rtb" gradientUnits="userSpaceOnUse" x1="0" y1="109" x2="0" y2="572"><stop offset="0.0000" stop-color="#0000ff" stop-opacity="0.996"/><stop offset="0.0417" stop-color="#0000ff" stop-opacity="0.979"/><stop offset="0.0833" stop-color="#0000ff" stop-opacity="0.882"/><stop offset="0.1250" stop-color="#0000ff" stop-opacity="0.727"/><stop offset="0.1667" stop-color="#0000ff" stop-opacity="0.549"/><stop offset="0.2083" stop-color="#0000ff" stop-opacity="0.380"/><stop offset="0.2500" stop-color="#0000ff" stop-opacity="0.240"/><stop offset="0.2917" stop-color="#0000ff" stop-opacity="0.139"/><stop offset="0.3333" stop-color="#0000ff" stop-opacity="0.074"/><stop offset="0.3750" stop-color="#0000ff" stop-opacity="0.036"/><stop offset="0.4167" stop-color="#0000ff" stop-opacity="0.016"/><stop offset="0.4583" stop-color="#0000ff" stop-opacity="0.007"/><stop offset="0.5000" stop-color="#0000ff" stop-opacity="0.002"/><stop offset="0.5417" stop-color="#0000ff" stop-opacity="0.001"/><stop offset="0.5833" stop-color="#0000ff" stop-opacity="0.000"/><stop offset="0.6250" stop-color="#0000ff" stop-opacity="0.000"/><stop offset="0.6667" stop-color="#0000ff" stop-opacity="0.000"/><stop offset="0.7083" stop-color="#0000ff" stop-opacity="0.000"/><stop offset="0.7500" stop-color="#0000ff" stop-opacity="0.000"/><stop offset="0.7917" stop-color="#0000ff" stop-opacity="0.000"/><stop offset="0.8333" stop-color="#0000ff" stop-opacity="0.000"/><stop offset="0.8750" stop-color="#0000ff" stop-opacity="0.000"/><stop offset="0.9167" stop-color="#0000ff" stop-opacity="0.000"/><stop offset="0.9583" stop-color="#0000ff" stop-opacity="0.000"/><stop offset="1.0000" stop-color="#0000ff" stop-opacity="0.000"/></linearGradient><linearGradient id="Rur" gradientUnits="userSpaceOnUse" x1="0" y1="109" x2="0" y2="572"><stop offset="0.0000" stop-color="#ff0000" stop-opacity="0.000"/><stop offset="0.0417" stop-color="#ff0000" stop-opacity="0.000"/><stop offset="0.0833" stop-color="#ff0000" stop-opacity="0.000"/><stop offset="0.1250" stop-color="#ff0000" stop-opacity="0.000"/><stop offset="0.1667" stop-color="#ff0000" stop-opacity="0.000"/><stop offset="0.2083" stop-color="#ff0000" stop-opacity="0.000"/><stop offset="0.2500" stop-color="#ff0000" stop-opacity="0.000"/><stop offset="0.2917" stop-color="#ff0000" stop-opacity="0.000"/><stop offset="0.3333" stop-color="#ff0000" stop-opacity="0.000"/><stop offset="0.3750" stop-color="#ff0000" stop-opacity="0.000"/><stop offset="0.4167" stop-color="#ff0000" stop-opacity="0.000"/><stop offset="0.4583" stop-color="#ff0000" stop-opacity="0.000"/><stop offset="0.5000" stop-color="#ff0000" stop-opacity="0.000"/><stop offset="0.5417" stop-color="#ff0000" stop-opacity="0.000"/><stop offset="0.5833" stop-color="#ff0000" stop-opacity="0.000"/><stop offset="0.6250" stop-color="#ff0000" stop-opacity="0.000"/><stop offset="0.6667" stop-color="#ff0000" stop-opacity="0.001"/><stop offset="0.7083" stop-color="#ff0000" stop-opacity="0.006"/><stop offset="0.7500" stop-color="#ff0000" stop-opacity="0.023"/><stop offset="0.7917" stop-color="#ff0000" stop-opacity="0.068"/><stop offset="0.8333" stop-color="#ff0000" stop-opacity="0.167"/><stop offset="0.8750" stop-color="#ff0000" stop-opacity="0.342"/><stop offset="0.9167" stop-color="#ff0000" stop-opacity="0.585"/><stop offset="0.9583" stop-color="#ff0000" stop-opacity="0.832"/><stop offset="1.0000" stop-color="#ff0000" stop-opacity="0.984"/></linearGradient><linearGradient id="Rub" gradientUnits="userSpaceOnUse" x1="0" y1="109" x2="0" y2="572"><stop offset="0.0000" stop-color="#0000ff" stop-opacity="0.000"/><stop offset="0.0417" stop-color="#0000ff" stop-opacity="0.000"/><stop offset="0.0833" stop-color="#0000ff" stop-opacity="0.000"/><stop offset="0.1250" stop-color="#0000ff" stop-opacity="0.000"/><stop offset="0.1667" stop-color="#0000ff" stop-opacity="0.000"/><stop offset="0.2083" stop-color="#0000ff" stop-opacity="0.000"/><stop offset="0.2500" stop-color="#0000ff" stop-opacity="0.000"/><stop offset="0.2917" stop-color="#0000ff" stop-opacity="0.000"/><stop offset="0.3333" stop-color="#0000ff" stop-opacity="0.000"/><stop offset="0.3750" stop-color="#0000ff" stop-opacity="0.000"/><stop offset="0.4167" stop-color="#0000ff" stop-opacity="0.000"/><stop offset="0.4583" stop-color="#0000ff" stop-opacity="0.000"/><stop offset="0.5000" stop-color="#0000ff" stop-opacity="0.000"/><stop offset="0.5417" stop-color="#0000ff" stop-opacity="0.000"/><stop offset="0.5833" stop-color="#0000ff" stop-opacity="0.000"/><stop offset="0.6250" stop-color="#0000ff" stop-opacity="0.000"/><stop offset="0.6667" stop-color="#0000ff" stop-opacity="0.001"/><stop offset="0.7083" stop-color="#0000ff" stop-opacity="0.006"/><stop offset="0.7500" stop-color="#0000ff" stop-opacity="0.023"/><stop offset="0.7917" stop-color="#0000ff" stop-opacity="0.068"/><stop offset="0.8333" stop-color="#0000ff" stop-opacity="0.167"/><stop offset="0.8750" stop-color="#0000ff" stop-opacity="0.342"/><stop offset="0.9167" stop-color="#0000ff" stop-opacity="0.585"/><stop offset="0.9583" stop-color="#0000ff" stop-opacity="0.832"/><stop offset="1.0000" stop-color="#0000ff" stop-opacity="0.984"/></linearGradient><filter id="Rblur" filterUnits="userSpaceOnUse" x="648" y="49" width="467" height="583"><feGaussianBlur stdDeviation="2.1"/></filter></defs>
<g clip-path="url(#clipR)"><g filter="url(#Rblur)" fill="none" stroke-width="7.00"><path d="M744.3 100.1Q793.8 340.1 744.3 580.1" stroke="url(#Rmr)" stroke-opacity="0.005"/><path d="M744.3 100.1Q793.8 340.1 744.3 580.1" stroke="url(#Rtr)" stroke-opacity="0.005"/><path d="M755.8 100.1Q805.3 340.1 755.8 580.1" stroke="url(#Rmb)" stroke-opacity="0.010"/><path d="M755.8 100.1Q805.3 340.1 755.8 580.1" stroke="url(#Rtb)" stroke-opacity="0.010"/><path d="M755.8 100.1Q805.3 340.1 755.8 580.1" stroke="url(#Rub)" stroke-opacity="0.007"/><path d="M767.2 100.1Q816.8 340.1 767.2 580.1" stroke="url(#Rmr)" stroke-opacity="0.020"/><path d="M767.2 100.1Q816.8 340.1 767.2 580.1" stroke="url(#Rtr)" stroke-opacity="0.018"/><path d="M767.2 100.1Q816.8 340.1 767.2 580.1" stroke="url(#Rur)" stroke-opacity="0.013"/><path d="M778.7 100.1Q828.2 340.1 778.7 580.1" stroke="url(#Rmb)" stroke-opacity="0.035"/><path d="M778.7 100.1Q828.2 340.1 778.7 580.1" stroke="url(#Rtb)" stroke-opacity="0.031"/><path d="M778.7 100.1Q828.2 340.1 778.7 580.1" stroke="url(#Rub)" stroke-opacity="0.022"/><path d="M790.2 100.1Q839.7 340.1 790.2 580.1" stroke="url(#Rmr)" stroke-opacity="0.059"/><path d="M790.2 100.1Q839.7 340.1 790.2 580.1" stroke="url(#Rtr)" stroke-opacity="0.046"/><path d="M790.2 100.1Q839.7 340.1 790.2 580.1" stroke="url(#Rur)" stroke-opacity="0.033"/><path d="M801.7 100.1Q851.2 340.1 801.7 580.1" stroke="url(#Rmb)" stroke-opacity="0.092"/><path d="M801.7 100.1Q851.2 340.1 801.7 580.1" stroke="url(#Rtb)" stroke-opacity="0.063"/><path d="M801.7 100.1Q851.2 340.1 801.7 580.1" stroke="url(#Rub)" stroke-opacity="0.044"/><path d="M813.1 100.1Q862.7 340.1 813.1 580.1" stroke="url(#Rmr)" stroke-opacity="0.135"/><path d="M813.1 100.1Q862.7 340.1 813.1 580.1" stroke="url(#Rtr)" stroke-opacity="0.078"/><path d="M813.1 100.1Q862.7 340.1 813.1 580.1" stroke="url(#Rur)" stroke-opacity="0.052"/><path d="M824.6 100.1Q874.1 340.1 824.6 580.1" stroke="url(#Rmb)" stroke-opacity="0.184"/><path d="M824.6 100.1Q874.1 340.1 824.6 580.1" stroke="url(#Rtb)" stroke-opacity="0.087"/><path d="M824.6 100.1Q874.1 340.1 824.6 580.1" stroke="url(#Rub)" stroke-opacity="0.056"/><path d="M836.1 100.1Q885.6 340.1 836.1 580.1" stroke="url(#Rmr)" stroke-opacity="0.234"/><path d="M836.1 100.1Q885.6 340.1 836.1 580.1" stroke="url(#Rtr)" stroke-opacity="0.088"/><path d="M836.1 100.1Q885.6 340.1 836.1 580.1" stroke="url(#Rur)" stroke-opacity="0.053"/><path d="M848.2 100.1Q896.5 340.1 848.2 580.1" stroke="url(#Rmb)" stroke-opacity="0.279"/><path d="M848.2 100.1Q896.5 340.1 848.2 580.1" stroke="url(#Rtb)" stroke-opacity="0.080"/><path d="M848.2 100.1Q896.5 340.1 848.2 580.1" stroke="url(#Rub)" stroke-opacity="0.045"/><path d="M862.8 100.1Q904.8 340.1 862.8 580.1" stroke="url(#Rmr)" stroke-opacity="0.310"/><path d="M862.8 100.1Q904.8 340.1 862.8 580.1" stroke="url(#Rtr)" stroke-opacity="0.066"/><path d="M862.8 100.1Q904.8 340.1 862.8 580.1" stroke="url(#Rur)" stroke-opacity="0.034"/><path d="M877.5 100.1Q913.1 340.1 877.5 580.1" stroke="url(#Rmb)" stroke-opacity="0.322"/><path d="M877.5 100.1Q913.1 340.1 877.5 580.1" stroke="url(#Rtb)" stroke-opacity="0.049"/><path d="M877.5 100.1Q913.1 340.1 877.5 580.1" stroke="url(#Rub)" stroke-opacity="0.023"/><path d="M892.1 100.1Q921.4 340.1 892.1 580.1" stroke="url(#Rmr)" stroke-opacity="0.316"/><path d="M892.1 100.1Q921.4 340.1 892.1 580.1" stroke="url(#Rtr)" stroke-opacity="0.033"/><path d="M892.1 100.1Q921.4 340.1 892.1 580.1" stroke="url(#Rur)" stroke-opacity="0.014"/><path d="M906.7 100.1Q929.7 340.1 906.7 580.1" stroke="url(#Rmb)" stroke-opacity="0.296"/><path d="M906.7 100.1Q929.7 340.1 906.7 580.1" stroke="url(#Rtb)" stroke-opacity="0.020"/><path d="M906.7 100.1Q929.7 340.1 906.7 580.1" stroke="url(#Rub)" stroke-opacity="0.007"/><path d="M921.4 100.1Q938.0 340.1 921.4 580.1" stroke="url(#Rmr)" stroke-opacity="0.265"/><path d="M921.4 100.1Q938.0 340.1 921.4 580.1" stroke="url(#Rtr)" stroke-opacity="0.011"/><path d="M936.0 100.1Q946.4 340.1 936.0 580.1" stroke="url(#Rmb)" stroke-opacity="0.227"/><path d="M936.0 100.1Q946.4 340.1 936.0 580.1" stroke="url(#Rtb)" stroke-opacity="0.005"/><path d="M950.6 100.1Q954.7 340.1 950.6 580.1" stroke="url(#Rmr)" stroke-opacity="0.186"/><path d="M964.1 100.1Q964.1 340.1 964.1 580.1" stroke="url(#Rmb)" stroke-opacity="0.145"/><path d="M975.6 100.1Q975.6 340.1 975.6 580.1" stroke="url(#Rmr)" stroke-opacity="0.109"/><path d="M987.1 100.1Q987.1 340.1 987.1 580.1" stroke="url(#Rmb)" stroke-opacity="0.078"/><path d="M998.6 100.1Q998.6 340.1 998.6 580.1" stroke="url(#Rmr)" stroke-opacity="0.053"/><path d="M1010.0 100.1Q1010.0 340.1 1010.0 580.1" stroke="url(#Rmb)" stroke-opacity="0.035"/><path d="M1021.5 100.1Q1021.5 340.1 1021.5 580.1" stroke="url(#Rmr)" stroke-opacity="0.022"/><path d="M1033.0 100.1Q1033.0 340.1 1033.0 580.1" stroke="url(#Rmb)" stroke-opacity="0.013"/><path d="M1044.5 100.1Q1044.5 340.1 1044.5 580.1" stroke="url(#Rmr)" stroke-opacity="0.007"/><path d="M1055.9 100.1Q1055.9 340.1 1055.9 580.1" stroke="url(#Rmb)" stroke-opacity="0.004"/></g></g>
<g clip-path="url(#clipR)" fill="#1f77b4"><circle cx="864.3" cy="107.3" r="4.17"/><circle cx="881.3" cy="115.3" r="4.17"/><circle cx="882.3" cy="118.3" r="4.17"/><circle cx="853.3" cy="121.3" r="4.17"/><circle cx="857.3" cy="129.5" r="4.17"/><circle cx="894.3" cy="127.2" r="4.17"/><circle cx="905.8" cy="112.5" r="4.17"/><circle cx="906.7" cy="116.7" r="4.17"/><circle cx="907.7" cy="120.8" r="4.17"/><circle cx="908.8" cy="129.2" r="4.17"/><circle cx="909.3" cy="135.0" r="4.17"/><circle cx="901.3" cy="139.2" r="4.17"/><circle cx="926.7" cy="107.0" r="4.17"/><circle cx="929.3" cy="121.3" r="4.17"/><circle cx="930.7" cy="125.0" r="4.17"/><circle cx="931.3" cy="134.2" r="4.17"/><circle cx="862.3" cy="150.0" r="4.17"/><circle cx="884.2" cy="148.3" r="4.17"/><circle cx="821.3" cy="154.2" r="4.17"/><circle cx="830.3" cy="158.3" r="4.17"/><circle cx="884.2" cy="167.5" r="4.17"/><circle cx="911.3" cy="155.0" r="4.17"/><circle cx="908.3" cy="158.3" r="4.17"/><circle cx="912.2" cy="162.5" r="4.17"/><circle cx="913.0" cy="168.3" r="4.17"/><circle cx="907.7" cy="174.2" r="4.17"/><circle cx="913.0" cy="176.7" r="4.17"/><circle cx="912.2" cy="182.5" r="4.17"/><circle cx="917.2" cy="187.5" r="4.17"/><circle cx="913.8" cy="190.0" r="4.17"/><circle cx="921.3" cy="177.2" r="4.17"/><circle cx="932.2" cy="145.0" r="4.17"/><circle cx="932.7" cy="149.2" r="4.17"/><circle cx="933.0" cy="153.3" r="4.17"/><circle cx="933.3" cy="157.5" r="4.17"/><circle cx="933.7" cy="161.7" r="4.17"/><circle cx="934.0" cy="165.8" r="4.17"/><circle cx="934.3" cy="170.0" r="4.17"/><circle cx="934.7" cy="174.2" r="4.17"/><circle cx="934.7" cy="177.0" r="4.17"/><circle cx="935.3" cy="186.7" r="4.17"/><circle cx="936.0" cy="193.3" r="4.17"/><circle cx="936.3" cy="198.3" r="4.17"/><circle cx="936.7" cy="205.0" r="4.17"/><circle cx="937.2" cy="210.0" r="4.17"/><circle cx="937.5" cy="215.0" r="4.17"/><circle cx="865.5" cy="175.0" r="4.17"/><circle cx="866.3" cy="177.8" r="4.17"/><circle cx="866.3" cy="185.3" r="4.17"/><circle cx="825.0" cy="192.0" r="4.17"/><circle cx="822.3" cy="197.2" r="4.17"/><circle cx="841.3" cy="191.2" r="4.17"/><circle cx="866.3" cy="200.5" r="4.17"/><circle cx="894.3" cy="195.3" r="4.17"/><circle cx="882.3" cy="205.3" r="4.17"/><circle cx="907.2" cy="195.8" r="4.17"/><circle cx="906.7" cy="200.0" r="4.17"/><circle cx="912.2" cy="205.8" r="4.17"/><circle cx="907.7" cy="210.8" r="4.17"/><circle cx="790.0" cy="210.3" r="4.17"/><circle cx="867.7" cy="211.7" r="4.17"/><circle cx="869.2" cy="218.0" r="4.17"/><circle cx="908.3" cy="215.8" r="4.17"/><circle cx="937.2" cy="218.7" r="4.17"/><circle cx="929.3" cy="224.2" r="4.17"/><circle cx="933.8" cy="226.7" r="4.17"/><circle cx="935.5" cy="230.8" r="4.17"/><circle cx="936.3" cy="235.0" r="4.17"/><circle cx="936.3" cy="239.2" r="4.17"/><circle cx="935.5" cy="243.3" r="4.17"/><circle cx="936.3" cy="247.5" r="4.17"/><circle cx="937.2" cy="251.7" r="4.17"/><circle cx="937.2" cy="256.7" r="4.17"/><circle cx="931.3" cy="230.0" r="4.17"/><circle cx="932.2" cy="236.7" r="4.17"/><circle cx="933.0" cy="243.3" r="4.17"/><circle cx="934.7" cy="248.3" r="4.17"/><circle cx="888.0" cy="229.2" r="4.17"/><circle cx="892.7" cy="227.0" r="4.17"/><circle cx="893.3" cy="235.3" r="4.17"/><circle cx="886.3" cy="239.5" r="4.17"/><circle cx="891.3" cy="242.5" r="4.17"/><circle cx="896.3" cy="246.2" r="4.17"/><circle cx="888.8" cy="249.2" r="4.17"/><circle cx="889.3" cy="252.5" r="4.17"/><circle cx="913.3" cy="233.0" r="4.17"/><circle cx="922.2" cy="231.2" r="4.17"/><circle cx="920.8" cy="241.7" r="4.17"/><circle cx="914.2" cy="249.2" r="4.17"/><circle cx="912.2" cy="252.0" r="4.17"/><circle cx="852.5" cy="237.2" r="4.17"/><circle cx="869.5" cy="250.3" r="4.17"/><circle cx="871.3" cy="258.3" r="4.17"/><circle cx="867.5" cy="266.2" r="4.17"/><circle cx="915.5" cy="270.3" r="4.17"/><circle cx="918.0" cy="273.0" r="4.17"/><circle cx="888.0" cy="278.3" r="4.17"/><circle cx="894.3" cy="281.3" r="4.17"/><circle cx="896.3" cy="293.0" r="4.17"/><circle cx="901.7" cy="294.3" r="4.17"/><circle cx="908.5" cy="292.2" r="4.17"/><circle cx="909.3" cy="301.3" r="4.17"/><circle cx="904.7" cy="303.7" r="4.17"/><circle cx="899.3" cy="309.3" r="4.17"/><circle cx="868.5" cy="315.3" r="4.17"/><circle cx="882.3" cy="323.0" r="4.17"/><circle cx="917.5" cy="317.0" r="4.17"/><circle cx="908.3" cy="322.0" r="4.17"/><circle cx="916.3" cy="325.0" r="4.17"/><circle cx="938.8" cy="231.7" r="4.17"/><circle cx="940.0" cy="236.7" r="4.17"/><circle cx="939.0" cy="241.7" r="4.17"/><circle cx="940.0" cy="246.7" r="4.17"/><circle cx="940.3" cy="252.5" r="4.17"/><circle cx="899.3" cy="336.3" r="4.17"/><circle cx="898.3" cy="345.3" r="4.17"/><circle cx="897.2" cy="350.3" r="4.17"/><circle cx="907.3" cy="351.2" r="4.17"/><circle cx="910.5" cy="361.2" r="4.17"/><circle cx="899.3" cy="370.3" r="4.17"/><circle cx="902.7" cy="373.3" r="4.17"/><circle cx="907.2" cy="378.3" r="4.17"/><circle cx="903.8" cy="382.5" r="4.17"/><circle cx="903.0" cy="387.5" r="4.17"/><circle cx="904.7" cy="391.7" r="4.17"/><circle cx="906.0" cy="395.0" r="4.17"/><circle cx="888.0" cy="387.5" r="4.17"/><circle cx="896.3" cy="389.2" r="4.17"/><circle cx="888.3" cy="404.2" r="4.17"/><circle cx="904.2" cy="403.3" r="4.17"/><circle cx="903.3" cy="407.5" r="4.17"/><circle cx="905.5" cy="413.0" r="4.17"/><circle cx="926.7" cy="399.5" r="4.17"/><circle cx="928.5" cy="405.3" r="4.17"/><circle cx="924.7" cy="411.7" r="4.17"/><circle cx="928.0" cy="415.0" r="4.17"/><circle cx="926.7" cy="420.0" r="4.17"/><circle cx="922.7" cy="424.5" r="4.17"/><circle cx="922.2" cy="431.7" r="4.17"/><circle cx="927.2" cy="432.0" r="4.17"/><circle cx="837.5" cy="419.3" r="4.17"/><circle cx="880.3" cy="427.0" r="4.17"/><circle cx="902.3" cy="428.3" r="4.17"/><circle cx="901.7" cy="432.5" r="4.17"/><circle cx="895.5" cy="435.8" r="4.17"/><circle cx="900.5" cy="445.8" r="4.17"/><circle cx="902.2" cy="448.0" r="4.17"/><circle cx="905.5" cy="456.7" r="4.17"/><circle cx="902.2" cy="461.3" r="4.17"/><circle cx="909.3" cy="468.0" r="4.17"/><circle cx="923.0" cy="435.0" r="4.17"/><circle cx="926.3" cy="438.3" r="4.17"/><circle cx="923.8" cy="442.5" r="4.17"/><circle cx="926.3" cy="446.7" r="4.17"/><circle cx="921.3" cy="451.7" r="4.17"/><circle cx="928.8" cy="451.7" r="4.17"/><circle cx="928.0" cy="460.0" r="4.17"/><circle cx="925.5" cy="465.0" r="4.17"/><circle cx="923.8" cy="470.0" r="4.17"/><circle cx="922.7" cy="475.0" r="4.17"/><circle cx="921.3" cy="479.2" r="4.17"/><circle cx="901.3" cy="484.2" r="4.17"/><circle cx="899.3" cy="492.5" r="4.17"/><circle cx="894.3" cy="497.0" r="4.17"/><circle cx="890.0" cy="504.3" r="4.17"/><circle cx="913.8" cy="492.5" r="4.17"/><circle cx="918.8" cy="490.8" r="4.17"/><circle cx="926.0" cy="490.0" r="4.17"/><circle cx="926.3" cy="495.0" r="4.17"/><circle cx="923.8" cy="500.0" r="4.17"/><circle cx="923.8" cy="505.0" r="4.17"/><circle cx="924.7" cy="510.0" r="4.17"/><circle cx="906.3" cy="501.7" r="4.17"/><circle cx="900.5" cy="504.2" r="4.17"/><circle cx="903.0" cy="508.3" r="4.17"/><circle cx="902.2" cy="513.3" r="4.17"/><circle cx="915.5" cy="515.0" r="4.17"/><circle cx="919.7" cy="518.3" r="4.17"/><circle cx="923.0" cy="521.7" r="4.17"/><circle cx="922.2" cy="526.7" r="4.17"/><circle cx="922.7" cy="531.7" r="4.17"/><circle cx="921.3" cy="536.7" r="4.17"/><circle cx="919.7" cy="541.7" r="4.17"/><circle cx="920.5" cy="545.8" r="4.17"/><circle cx="899.3" cy="523.0" r="4.17"/><circle cx="895.5" cy="531.3" r="4.17"/><circle cx="897.2" cy="535.8" r="4.17"/><circle cx="895.5" cy="540.8" r="4.17"/><circle cx="894.7" cy="545.8" r="4.17"/><circle cx="841.3" cy="503.0" r="4.17"/><circle cx="838.0" cy="509.2" r="4.17"/><circle cx="850.5" cy="513.0" r="4.17"/><circle cx="837.5" cy="542.0" r="4.17"/><circle cx="873.3" cy="547.0" r="4.17"/><circle cx="923.8" cy="438.3" r="4.17"/><circle cx="928.3" cy="444.2" r="4.17"/><circle cx="922.7" cy="447.5" r="4.17"/><circle cx="925.7" cy="450.8" r="4.17"/><circle cx="928.8" cy="455.8" r="4.17"/><circle cx="847.2" cy="551.3" r="4.17"/><circle cx="868.5" cy="558.0" r="4.17"/><circle cx="875.5" cy="561.3" r="4.17"/><circle cx="882.3" cy="565.5" r="4.17"/><circle cx="872.2" cy="570.8" r="4.17"/><circle cx="816.3" cy="569.2" r="4.17"/><circle cx="895.5" cy="556.7" r="4.17"/><circle cx="894.3" cy="565.8" r="4.17"/><circle cx="893.8" cy="570.0" r="4.17"/><circle cx="918.8" cy="551.7" r="4.17"/><circle cx="918.0" cy="556.7" r="4.17"/><circle cx="921.3" cy="558.3" r="4.17"/><circle cx="918.8" cy="561.7" r="4.17"/><circle cx="923.0" cy="563.3" r="4.17"/><circle cx="918.0" cy="566.7" r="4.17"/><circle cx="922.2" cy="567.5" r="4.17"/><circle cx="919.7" cy="570.8" r="4.17"/><circle cx="741.4" cy="290.4" r="4.17"/><circle cx="924.3" cy="516.7" r="4.17"/><circle cx="924.7" cy="522.5" r="4.17"/><circle cx="924.3" cy="527.5" r="4.17"/><circle cx="923.5" cy="532.5" r="4.17"/><circle cx="922.7" cy="537.5" r="4.17"/><circle cx="922.3" cy="542.5" r="4.17"/><circle cx="922.0" cy="548.3" r="4.17"/><circle cx="922.7" cy="553.3" r="4.17"/><circle cx="923.8" cy="558.3" r="4.17"/><circle cx="924.3" cy="563.3" r="4.17"/><circle cx="923.5" cy="567.5" r="4.17"/><circle cx="897.2" cy="550.8" r="4.17"/><circle cx="896.3" cy="541.7" r="4.17"/><circle cx="914.7" cy="561.7" r="4.17"/><circle cx="915.5" cy="566.7" r="4.17"/><circle cx="904.0" cy="112.4" r="4.17"/><circle cx="907.8" cy="112.8" r="4.17"/><circle cx="909.2" cy="121.5" r="4.17"/><circle cx="909.6" cy="130.2" r="4.17"/><circle cx="928.6" cy="120.8" r="4.17"/><circle cx="930.9" cy="123.6" r="4.17"/><circle cx="931.6" cy="126.0" r="4.17"/><circle cx="914.7" cy="160.0" r="4.17"/><circle cx="910.2" cy="165.3" r="4.17"/><circle cx="915.5" cy="171.7" r="4.17"/><circle cx="910.5" cy="179.5" r="4.17"/><circle cx="915.0" cy="185.0" r="4.17"/><circle cx="911.0" cy="188.0" r="4.17"/><circle cx="931.0" cy="146.7" r="4.17"/><circle cx="934.7" cy="150.8" r="4.17"/><circle cx="931.7" cy="155.0" r="4.17"/><circle cx="935.3" cy="159.2" r="4.17"/><circle cx="932.3" cy="163.7" r="4.17"/><circle cx="936.0" cy="168.0" r="4.17"/><circle cx="933.0" cy="172.0" r="4.17"/><circle cx="936.3" cy="175.8" r="4.17"/></g>
<rect x="708" y="109" width="347" height="463" fill="none" stroke="#000" stroke-width="1.7"/>
<line x1="701" x2="708" y1="572.22" y2="572.22" stroke="#000" stroke-width="1.7"/>
<text x="693.2" y="580.52" font-size="22.2" text-anchor="end">-8</text>
<line x1="701" x2="708" y1="514.34" y2="514.34" stroke="#000" stroke-width="1.7"/>
<text x="693.2" y="522.64" font-size="22.2" text-anchor="end">-6</text>
<line x1="701" x2="708" y1="456.46" y2="456.46" stroke="#000" stroke-width="1.7"/>
<text x="693.2" y="464.76" font-size="22.2" text-anchor="end">-4</text>
<line x1="701" x2="708" y1="398.58" y2="398.58" stroke="#000" stroke-width="1.7"/>
<text x="693.2" y="406.88" font-size="22.2" text-anchor="end">-2</text>
<line x1="701" x2="708" y1="340.70" y2="340.70" stroke="#000" stroke-width="1.7"/>
<text x="694.5" y="349.00" font-size="22.2" text-anchor="end">0</text>
<line x1="701" x2="708" y1="282.82" y2="282.82" stroke="#000" stroke-width="1.7"/>
<text x="694.5" y="291.12" font-size="22.2" text-anchor="end">2</text>
<line x1="701" x2="708" y1="224.94" y2="224.94" stroke="#000" stroke-width="1.7"/>
<text x="694.5" y="233.24" font-size="22.2" text-anchor="end">4</text>
<line x1="701" x2="708" y1="167.06" y2="167.06" stroke="#000" stroke-width="1.7"/>
<text x="694.5" y="175.36" font-size="22.2" text-anchor="end">6</text>
<line x1="701" x2="708" y1="109.18" y2="109.18" stroke="#000" stroke-width="1.7"/>
<text x="694.5" y="117.48" font-size="22.2" text-anchor="end">8</text>
<line x1="735.00" x2="735.00" y1="572" y2="579" stroke="#000" stroke-width="1.7"/>
<text x="735.00" y="603" font-size="22.2" text-anchor="middle">55.0</text>
<line x1="807.50" x2="807.50" y1="572" y2="579" stroke="#000" stroke-width="1.7"/>
<text x="807.50" y="603" font-size="22.2" text-anchor="middle">57.5</text>
<line x1="880.00" x2="880.00" y1="572" y2="579" stroke="#000" stroke-width="1.7"/>
<text x="880.00" y="603" font-size="22.2" text-anchor="middle">60.0</text>
<line x1="952.50" x2="952.50" y1="572" y2="579" stroke="#000" stroke-width="1.7"/>
<text x="952.50" y="603" font-size="22.2" text-anchor="middle">62.5</text>
<line x1="1025.00" x2="1025.00" y1="572" y2="579" stroke="#000" stroke-width="1.7"/>
<text x="1025.00" y="603" font-size="22.2" text-anchor="middle">65.0</text>
<text x="881.5" y="636" font-size="25" text-anchor="middle">x [<tspan font-style="italic" class="mu" font-size="22" dx="0.6">μ</tspan><tspan dx="0.9">m]</tspan></text>
<text transform="translate(658,342.5) rotate(-90)" font-size="25" text-anchor="middle">y [<tspan font-style="italic" class="mu" font-size="22" dx="0.6">μ</tspan><tspan dx="0.9">m]</tspan></text>
<rect x="1063" y="109" width="17" height="463" fill="url(#seis)" stroke="#000" stroke-width="1.7"/>
<line x1="1080" x2="1087" y1="155.30" y2="155.30" stroke="#000" stroke-width="1.7"/>
<text x="1095.5" y="163.50" font-size="22.2">4</text>
<line x1="1080" x2="1087" y1="247.90" y2="247.90" stroke="#000" stroke-width="1.7"/>
<text x="1095.5" y="256.10" font-size="22.2">2</text>
<line x1="1080" x2="1087" y1="340.50" y2="340.50" stroke="#000" stroke-width="1.7"/>
<text x="1095.5" y="348.70" font-size="22.2">0</text>
<line x1="1080" x2="1087" y1="433.10" y2="433.10" stroke="#000" stroke-width="1.7"/>
<text x="1095.5" y="441.30" font-size="22.2">-2</text>
<line x1="1080" x2="1087" y1="525.70" y2="525.70" stroke="#000" stroke-width="1.7"/>
<text x="1095.5" y="533.90" font-size="22.2">-4</text>
<text x="1079" y="102.8" font-size="22.2" text-anchor="end">1e13</text>
<text transform="translate(1138.5,341) rotate(-90)" font-size="25" text-anchor="middle">Transverse Electric Field V/m</text>
</svg></body></html>
